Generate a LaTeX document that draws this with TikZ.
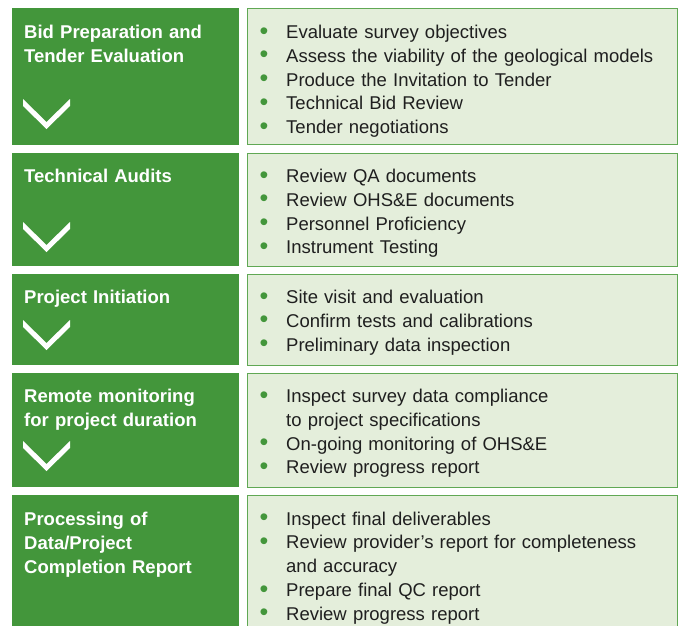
\documentclass[tikz,border=0pt]{standalone}
\usepackage{fontspec}
\setmainfont{Liberation Sans}
\usetikzlibrary{positioning}
\definecolor{qcgreen}{RGB}{67,150,59}
\definecolor{qcpale}{RGB}{228,238,219}
\definecolor{qcline}{RGB}{96,168,84}

\newcommand{\qcdot}{\hspace{-1pt}\raisebox{-0.6pt}{\textcolor{qcgreen}{\fontsize{25}{25}\selectfont\textbullet}}}
\newcommand{\qcitem}[1]{\hangindent=25.5pt\hangafter=1\noindent\makebox[25.5pt][l]{\qcdot}#1\par}
\newcommand{\qcchev}[2]{\fill[white, shift={(#1,#2)}]
  (0,0) -- (23.5,23) -- (47,0) -- (47,7) -- (23.5,30) -- (0,7) -- cycle;}

\tikzset{
  stagebox/.style={fill=qcgreen, draw=none, anchor=north west,
    minimum width=227pt, inner sep=0pt, outer sep=0pt},
  taskbox/.style={fill=qcpale, draw=qcline, line width=1pt,
    minimum width=430pt, inner sep=0pt, outer sep=0pt},
  stagetext/.style={anchor=base west, text width=210pt, align=left, inner sep=0pt,
    text=white, font=\fontsize{18.5}{24}\selectfont\bfseries},
  tasktext/.style={anchor=base west, text width=400pt, align=left, inner sep=0pt,
    text=black!88, font=\fontsize{18.5}{23.8}\selectfont},
}

\begin{document}
\begin{tikzpicture}[x=1pt, y=-1pt]

  \useasboundingbox (0,0) rectangle (683,625);

  % stage boxes
  \node[stagebox, minimum height=137] (bid) at (12,8) {};
  \node[stagebox, minimum height=113, below=8pt of bid] (audit) {};
  \node[stagebox, minimum height=91, below=8pt of audit] (init) {};
  \node[stagebox, minimum height=114, below=8pt of init] (remote) {};
  \node[stagebox, minimum height=140, below=8pt of remote] (report) {};

  % task boxes
  \node[taskbox, minimum height=136, right=8pt of bid] (bidtasks) {};
  \node[taskbox, minimum height=113, right=8pt of audit] (audittasks) {};
  \node[taskbox, minimum height=91, right=8pt of init] (inittasks) {};
  \node[taskbox, minimum height=114, right=8pt of remote] (remotetasks) {};
  \node[taskbox, minimum height=140, right=8pt of report] (reporttasks) {};

  % stage titles
  \node[stagetext] (bidname) at ([shift={(12,30)}]bid.north west)
    {Bid Preparation and\\Tender Evaluation};
  \node[stagetext] (auditname) at ([shift={(12,29.5)}]audit.north west)
    {Technical Audits};
  \node[stagetext] (initname) at ([shift={(12,29.5)}]init.north west)
    {Project Initiation};
  \node[stagetext] (remotename) at ([shift={(12,29.5)}]remote.north west)
    {Remote monitoring\\for project duration};
  \node[stagetext] (reportname) at ([shift={(12,30)}]report.north west)
    {Processing of\\Data/Project\\Completion Report};

  % task lists
  \node[tasktext] (bidlist) at ([shift={(13.5,30)}]bidtasks.north west) {%
    \qcitem{Evaluate survey objectives}%
    \qcitem{Assess the viability of the geological models}%
    \qcitem{Produce the Invitation to Tender}%
    \qcitem{Technical Bid Review}%
    \qcitem{Tender negotiations}};
  \node[tasktext] (auditlist) at ([shift={(13.5,29.5)}]audittasks.north west) {%
    \qcitem{Review QA documents}%
    \qcitem{Review OHS\&E documents}%
    \qcitem{Personnel Proficiency}%
    \qcitem{Instrument Testing}};
  \node[tasktext] (initlist) at ([shift={(13.5,29.5)}]inittasks.north west) {%
    \qcitem{Site visit and evaluation}%
    \qcitem{Confirm tests and calibrations}%
    \qcitem{Preliminary data inspection}};
  \node[tasktext] (remotelist) at ([shift={(13.5,29.5)}]remotetasks.north west) {%
    \qcitem{Inspect survey data compliance\newline to project specifications}%
    \qcitem{On-going monitoring of OHS\&E}%
    \qcitem{Review progress report}};
  \node[tasktext] (reportlist) at ([shift={(13.5,30)}]reporttasks.north west) {%
    \qcitem{Inspect final deliverables}%
    \qcitem{Review provider’s report for completeness\newline and accuracy}%
    \qcitem{Prepare final QC report}%
    \qcitem{Review progress report}};

  % chevrons
  \qcchev{23}{99}
  \qcchev{23}{222}
  \qcchev{23}{320}
  \qcchev{23}{441}

\end{tikzpicture}
\end{document}
